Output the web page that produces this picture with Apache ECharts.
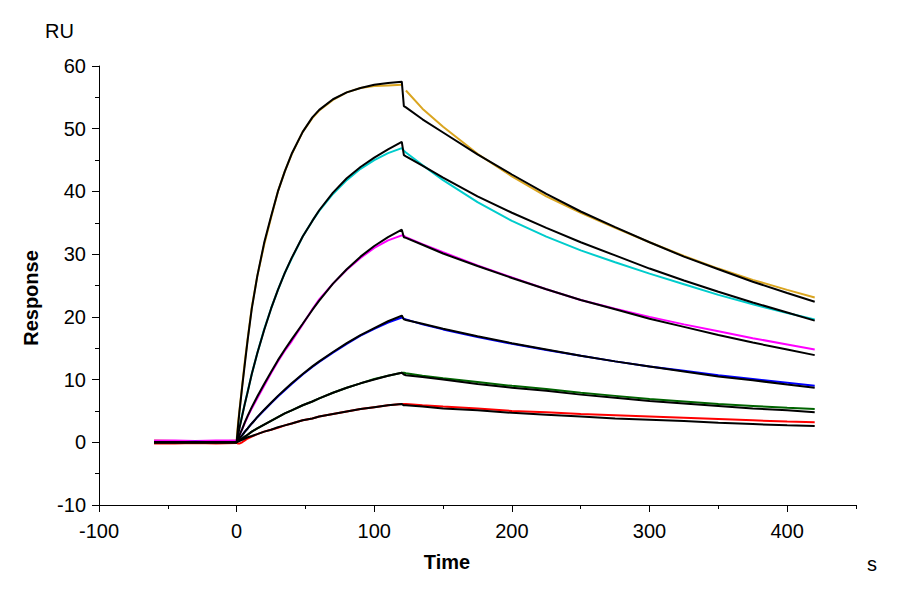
<!DOCTYPE html>
<html>
<head>
<meta charset="utf-8">
<script src="https://cdn.jsdelivr.net/npm/echarts@6/dist/echarts.min.js"></script>
<style>html,body{margin:0;padding:0;background:#fff}#c{width:900px;height:600px}</style>
</head>
<body>
<div id="c"></div>
<script>
const time = [-60,-45,-30,-15,0,1,2,4,6,8,11,15,20,25,30,35,40,48,55,60,70,80,90,100,110,120,121.5,123,135,150,175,200,225,250,275,300,325,350,375,400,420];

const orangeData = [0.3,0.2,0.2,0.1, 0.3,3.0,5.0,9.0,13.0,16.5,21.5,26.5,31.5,35.8,40.0,43.2,45.9,49.5,51.7,52.9,54.6,55.8,56.5,56.8,56.9,57.0, null,56.1, 53.2,50.3,46.0,42.4,39.2,36.6,34.2,31.9,29.7,27.7,25.9,24.3,23.1];
const orangeFit  = [0,0,0,0, 0,2.5,4.8,8.8,12.6,16.3,21.3,26.5,31.8,36.0,40.0,43.2,46.0,49.5,51.8,53.0,54.7,55.8,56.5,57.0,57.3,57.5, 53.6,53.4, 51.5,49.4,45.9,42.7,39.6,36.8,34.3,31.9,29.6,27.6,25.6,23.8,22.4];
const cyanData   = [0.1,0.1,0.0,0.1, 0.2,1.3,2.3,4.3,6.2,8.1,10.9,14.2,18.0,21.3,24.3,27.0,29.3,32.8,35.3,36.9,39.6,41.8,43.6,45.0,46.1,46.9, 46.5,46.2, 44.2,41.8,38.3,35.3,32.8,30.6,28.7,26.9,25.2,23.5,22.0,20.6,19.6];
const cyanFit    = [0,0,0,0, 0,1.1,2.2,4.2,6.2,8.0,10.9,14.2,17.9,21.3,24.3,27.0,29.4,32.8,35.3,37.0,39.8,42.1,43.9,45.4,46.7,47.9, 45.8,45.6, 44.1,42.2,39.2,36.6,34.2,31.9,29.8,27.7,25.8,24.0,22.3,20.7,19.4];
const magentaData= [0.3,0.3,0.2,0.3, 0.3,0.6,1.1,2.1,3.1,4.1,5.4,7.0,9.0,11.0,12.9,14.6,16.1,18.8,21.2,22.8,25.3,27.5,29.4,31.0,32.2,33.0, 32.9,32.7, 31.6,30.3,28.2,26.3,24.4,22.7,21.3,20.0,18.8,17.7,16.6,15.6,14.8];
const magentaFit = [0,0,0,0, 0,0.5,1.1,2.1,3.2,4.2,5.6,7.3,9.3,11.2,13.1,14.8,16.4,18.9,21.1,22.6,25.3,27.6,29.6,31.3,32.7,33.9, 32.7,32.6, 31.5,30.1,28.1,26.2,24.4,22.7,21.2,19.7,18.4,17.1,15.9,14.8,13.9];
const blueData   = [0.0,0.0,0.1,0.0, 0.1,0.3,0.6,1.1,1.7,2.2,3.0,4.0,5.1,6.2,7.3,8.3,9.3,10.8,12.0,12.8,14.3,15.7,17.0,18.1,19.1,19.9, 19.7,19.6, 18.8,18.0,16.8,15.7,14.7,13.8,12.9,12.1,11.4,10.7,10.1,9.5,9.0];
const blueFit    = [0,0,0,0, 0,0.3,0.6,1.1,1.7,2.2,3.0,4.0,5.2,6.3,7.4,8.4,9.4,10.9,12.1,12.9,14.4,15.8,17.1,18.2,19.3,20.2, 19.6,19.5, 18.9,18.1,16.9,15.8,14.8,13.8,12.9,12.1,11.3,10.5,9.9,9.2,8.7];
const greenData  = [-0.1,-0.1,-0.1,-0.1, 0.0,0.2,0.3,0.6,0.9,1.2,1.7,2.2,2.8,3.4,4.0,4.6,5.1,5.9,6.5,7.0,7.9,8.7,9.4,10.1,10.6,11.1, 11.1,11.0, 10.6,10.2,9.6,9.0,8.5,7.9,7.4,6.9,6.5,6.1,5.8,5.5,5.3];
const greenFit   = [0,0,0,0, 0,0.2,0.3,0.6,0.9,1.2,1.7,2.2,2.8,3.4,4.0,4.6,5.1,5.9,6.5,7.0,7.9,8.7,9.4,10.0,10.6,11.1, 10.8,10.7, 10.4,10.0,9.3,8.7,8.2,7.6,7.1,6.6,6.2,5.8,5.4,5.1,4.8];
const redData    = [-0.2,-0.2,-0.1,-0.2, -0.1,-0.2,-0.2,0.0,0.3,0.6,0.9,1.3,1.7,2.0,2.3,2.7,3.0,3.5,3.8,4.1,4.5,4.9,5.3,5.6,5.9,6.1, 6.1,6.1, 5.9,5.7,5.4,5.0,4.8,4.5,4.3,4.1,3.9,3.7,3.5,3.3,3.2];
const redFit     = [0,0,0,0, 0,0.1,0.2,0.4,0.6,0.8,1.0,1.3,1.7,2.0,2.4,2.7,3.0,3.5,3.8,4.1,4.5,4.9,5.3,5.6,5.9,6.1, 5.9,5.9, 5.7,5.4,5.1,4.7,4.4,4.1,3.8,3.6,3.4,3.1,2.9,2.7,2.6];

const xTicks = [-100,0,100,200,300,400];

const curves = [
  {data: orangeData,  color: '#DAA520'},
  {data: cyanData,    color: '#00CCCC'},
  {data: magentaData, color: '#FF00FF'},
  {data: blueData,    color: '#0000FF'},
  {data: greenData,   color: '#006400'},
  {data: redData,     color: '#FF0000'}
];
const fits = [orangeFit, cyanFit, magentaFit, blueFit, greenFit, redFit];

function pairs(arr){ return time.map((t,i)=>[t, arr[i]===null ? '-' : arr[i]]); }

const series = [];
curves.forEach(c => series.push({
  type:'line', data: pairs(c.data), showSymbol:false, symbol:'none',
  lineStyle:{color:c.color, width:2}, itemStyle:{color:c.color}, connectNulls:false, z:2
}));
fits.forEach(f => series.push({
  type:'line', data: pairs(f), showSymbol:false, symbol:'none',
  lineStyle:{color:'#000', width:2}, itemStyle:{color:'#000'}, z:3
}));

const FONT = "'Liberation Sans', Arial, sans-serif";
const chart = echarts.init(document.getElementById('c'), null, {renderer:'svg'});
chart.setOption({
  animation:false,
  backgroundColor:'#fff',
  grid:{left:99, right:44, top:66, bottom:95},
  xAxis:[
    {type:'value', min:-100, max:450, interval:50, position:'bottom',
     axisLine:{show:true, onZero:false, lineStyle:{color:'#000', width:1}},
     axisTick:{show:true, length:4, lineStyle:{color:'#000'}},
     axisLabel:{show:false}, splitLine:{show:false}},
    {type:'value', min:-100, max:450, interval:100, position:'bottom',
     axisLine:{show:false, onZero:false},
     axisTick:{show:true, length:7, customValues:xTicks, lineStyle:{color:'#000'}},
     axisLabel:{show:true, customValues:xTicks, margin:16, fontSize:20, color:'#000', fontFamily:FONT},
     splitLine:{show:false}}
  ],
  yAxis:{type:'value', min:-10, max:60, interval:10, position:'left',
    axisLine:{show:true, onZero:false, lineStyle:{color:'#000', width:1}},
    axisTick:{show:true, length:7, lineStyle:{color:'#000'}},
    minorTick:{show:true, splitNumber:2, length:4, lineStyle:{color:'#000'}},
    axisLabel:{margin:13, fontSize:20, color:'#000', fontFamily:FONT},
    splitLine:{show:false}, minorSplitLine:{show:false}},
  graphic:[
    {type:'text', left:45, top:21, style:{text:'RU', font:"20px "+FONT, fill:'#000'}},
    {type:'text', x:31, y:298, rotation:Math.PI/2,
     style:{text:'Response', font:"bold 20px "+FONT, fill:'#000', align:'center', verticalAlign:'middle'}},
    {type:'text', x:447, y:562, style:{text:'Time', font:"bold 20px "+FONT, fill:'#000', align:'center', verticalAlign:'middle'}},
    {type:'text', x:872, y:564, style:{text:'s', font:"20px "+FONT, fill:'#000', align:'center', verticalAlign:'middle'}}
  ],
  series: series
});
</script>
</body>
</html>
